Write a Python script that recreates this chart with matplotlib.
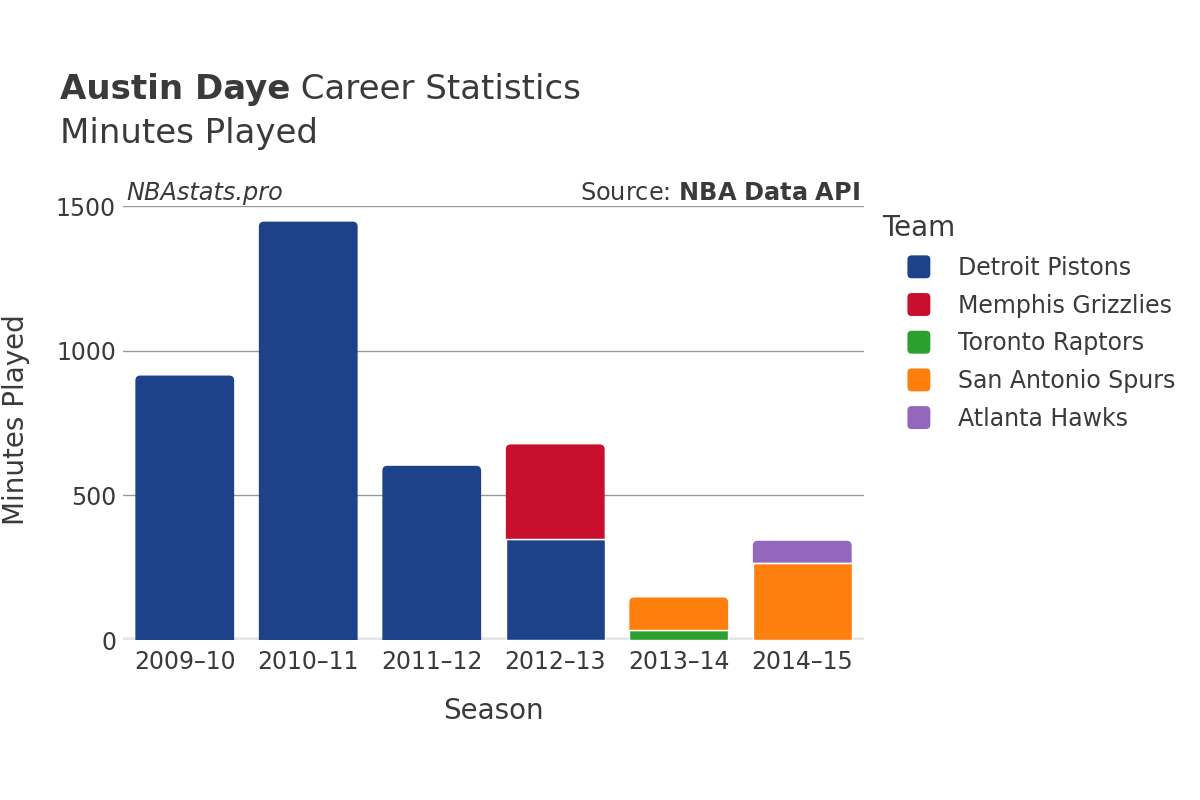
import matplotlib.pyplot as plt
from matplotlib.patches import FancyBboxPatch, PathPatch, Patch
from matplotlib.path import Path
from matplotlib.legend_handler import HandlerPatch

seasons = ["2009–10", "2010–11", "2011–12", "2012–13", "2013–14", "2014–15"]
teams = ["Detroit Pistons", "Memphis Grizzlies", "Toronto Raptors",
         "San Antonio Spurs", "Atlanta Hawks"]
colors = ["#1d428a", "#c8102e", "#2ca02c", "#ff7f0e", "#9467bd"]

# minutes per team, one value per season
detroit = [914, 1446, 602, 348, 0, 0]
memphis = [0, 0, 0, 328, 0, 0]
toronto = [0, 0, 0, 0, 34, 0]
spurs = [0, 0, 0, 0, 113, 267]
hawks = [0, 0, 0, 0, 0, 76]
minutes = [detroit, memphis, toronto, spurs, hawks]

txt = "#3a3a3a"
plt.rcParams['font.family'] = ['DejaVu Sans']

fig = plt.figure(figsize=(12, 8), dpi=100)
ax = fig.add_axes([0.1025, 0.2, 0.6175, 0.5425])

x = list(range(len(seasons)))
bottom = [0] * len(seasons)
tops = [None] * len(seasons)
for vals, c in zip(minutes, colors):
    bars = ax.bar(x, vals, 0.8, bottom=bottom, color=c, edgecolor="white",
                  linewidth=1, zorder=3)
    for i, (b, v) in enumerate(zip(bars, vals)):
        if v > 0:
            tops[i] = b
    bottom = [b + v for b, v in zip(bottom, vals)]

ax.set_xlim(-0.5, 5.5)
ax.set_ylim(0, 1500)

# round the top corners of each stacked bar
xpp = 6 / (0.6175 * 1200)
ypp = 1500 / (0.5425 * 800)
rx, ry = 5 * xpp, 5 * ypp
for b in tops:
    b.set_visible(False)
    x0, y0 = b.get_x(), b.get_y()
    x1, y1 = x0 + b.get_width(), y0 + b.get_height()
    verts = [(x0, y0), (x0, y1 - ry), (x0, y1), (x0 + rx, y1), (x1 - rx, y1),
             (x1, y1), (x1, y1 - ry), (x1, y0), (x0, y0)]
    codes = [Path.MOVETO, Path.LINETO, Path.CURVE3, Path.CURVE3, Path.LINETO,
             Path.CURVE3, Path.CURVE3, Path.LINETO, Path.CLOSEPOLY]
    ax.add_patch(PathPatch(Path(verts, codes), facecolor=b.get_facecolor(),
                           edgecolor="none", zorder=3))
    if y0 > 0:
        ax.plot([x0, x1], [y0, y0], color="white", lw=1, zorder=4)

for s in ax.spines.values():
    s.set_visible(False)
ax.set_yticks([0, 500, 1000, 1500])
ax.grid(axis="y", color="#999999", linewidth=1, zorder=0)
ax.axhline(0, color="#e6e6e6", linewidth=4, zorder=2)
ax.set_xticks(x)
ax.set_xticklabels(seasons)
ax.tick_params(length=0, labelsize=17, labelcolor=txt, pad=7)
ax.tick_params(axis="y", pad=5)
ax.set_xlabel("Season", fontsize=20, color=txt, labelpad=17)
ax.set_ylabel("Minutes Played", fontsize=20, color=txt)
ax.yaxis.set_label_coords(-0.126, 0.507)

t1 = fig.text(0.05, 0.876, "Austin Daye", fontsize=24.5, fontweight="bold",
              color=txt, va="baseline")
fig.canvas.draw()
bb = t1.get_window_extent()
fig.text(bb.x1 / 1200, 0.876, " Career Statistics", fontsize=24.5, color=txt,
         va="baseline")
fig.text(0.05, 0.821, "Minutes Played", fontsize=24.5, color=txt, va="baseline")
ax.text(0.005, 1.003, "NBAstats.pro", transform=ax.transAxes, fontsize=17.3,
        style="italic", color=txt, va="bottom")
ax.text(0.995, 1.003, "Source: $\\bf{NBA\\ Data\\ API}$", transform=ax.transAxes,
        fontsize=17.3, color=txt, va="bottom", ha="right")


def rounded_handle(legend, orig_handle, xdescent, ydescent, width, height,
                   fontsize):
    s = 16.5
    return FancyBboxPatch((-xdescent + width - s, -ydescent + height / 2 - s / 2),
                          s, s, boxstyle="round,pad=0,rounding_size=3")


handles = [Patch(facecolor=c, label=t) for t, c in zip(teams, colors)]
leg = fig.legend(handles=handles, title="Team", loc="upper left",
                 bbox_to_anchor=(0.7255, 0.747), frameon=False, fontsize=17,
                 title_fontsize=20, handlelength=2.03, handleheight=1.0,
                 handletextpad=1.19, labelspacing=0.58, borderpad=0,
                 handler_map={Patch: HandlerPatch(patch_func=rounded_handle)})
leg._legend_box.align = "left"
for t in leg.get_texts():
    t.set_color(txt)
leg.get_title().set_color(txt)

fig.savefig("out.png", dpi=100)
